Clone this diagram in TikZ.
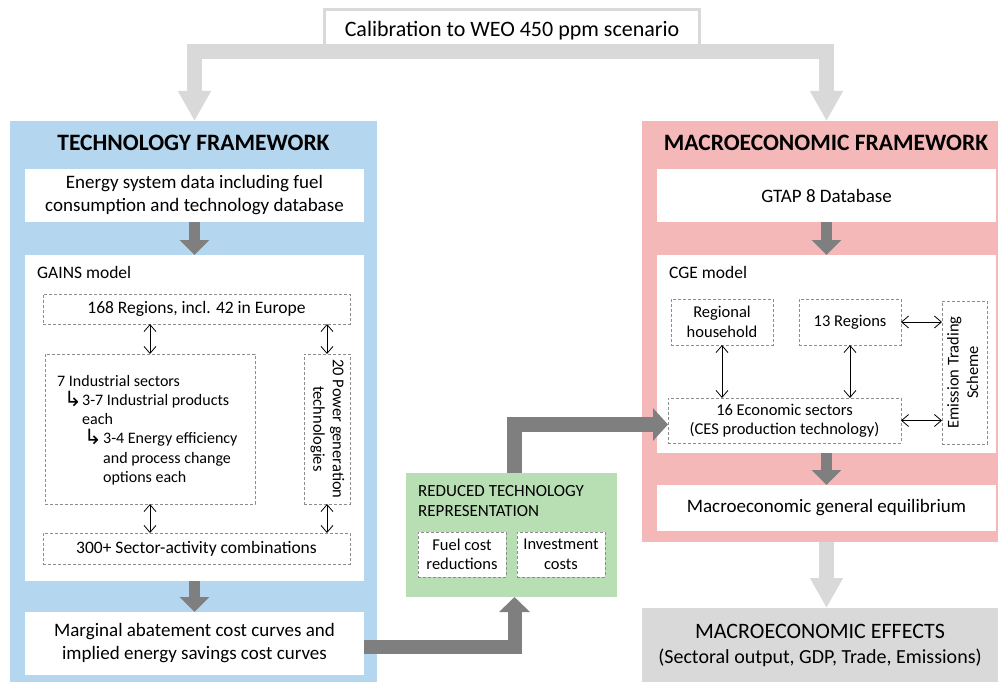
\documentclass[tikz,border=0pt]{standalone}
\usepackage{fontspec}
\setmainfont{Carlito}
\newfontfamily\symfont{DejaVu Sans}
\usetikzlibrary{arrows.meta,calc}

\definecolor{techblue}{RGB}{180,214,238}
\definecolor{macropink}{RGB}{244,184,184}
\definecolor{reducedgreen}{RGB}{184,223,180}
\definecolor{effectgray}{RGB}{217,217,217}
\definecolor{flowgray}{RGB}{217,217,217}
\definecolor{linkgray}{RGB}{127,127,127}
\definecolor{dashgray}{RGB}{140,140,140}

% hooked arrow used in the nested sector list
\newcommand{\hookmark}{\raisebox{-1pt}{\fontsize{21}{21}\symfont ↳}}

\begin{document}
\begin{tikzpicture}[x=1pt,y=-1pt,
  panel/.style={fill=#1, inner sep=0pt, outer sep=0pt},
  whitebox/.style={fill=white, inner sep=0pt, outer sep=0pt, align=center,
    font=\fontsize{19}{23}\selectfont},
  dbox/.style={draw=dashgray, dash pattern=on 3pt off 2pt, line width=0.8pt,
    fill=white, inner sep=0pt, outer sep=0pt, align=center,
    font=\fontsize{16.5}{19.5}\selectfont},
  dbl/.style={{Straight Barb[length=7pt,width=12pt]}-{Straight Barb[length=7pt,width=12pt]},
    line width=0.8pt},
  stepdown/.style={draw=linkgray, line width=11pt, -{Triangle[width=29pt,length=15pt]}},
  linkflow/.style={draw=linkgray, line width=14pt, -{Triangle[width=30pt,length=15pt]}},
  calflow/.style={draw=flowgray, line width=15pt, -{Triangle[width=31pt,length=30pt]}},
  paneltitle/.style={font=\fontsize{23.5}{28}\selectfont\bfseries, inner sep=0pt},
  modellabel/.style={font=\fontsize{17.5}{21}\selectfont, inner sep=0pt, anchor=west},
]
\useasboundingbox (0,0) rectangle (998,682);

% the two framework panels
\node[panel=techblue, minimum width=367pt, minimum height=561pt] (tech) at (193.5,401.5) {};
\node[panel=macropink, minimum width=356pt, minimum height=421pt] (macro) at (820,331.5) {};
\node[paneltitle] (techtitle) at (193.5,143) {TECHNOLOGY FRAMEWORK};
\node[paneltitle] (macrotitle) at (826,143) {MACROECONOMIC FRAMEWORK};

% technology side
\node[whitebox, minimum width=339pt, minimum height=53pt] (energy) at (194.5,195.5)
  {Energy system data including fuel\\consumption and technology database};
\node[whitebox, minimum width=339pt, minimum height=326pt] (gains) at (194.5,418) {};
\node[modellabel] (gainslabel) at (37,272) {GAINS model};
\node[dbox, minimum width=307pt, minimum height=30pt, font=\fontsize{17.5}{21}\selectfont]
  (reg168) at (196.5,309) {168 Regions, incl. 42 in Europe};
\node[dbox, minimum width=210pt, minimum height=150pt] (indus) at (150,429) {};
\node[font=\fontsize{16}{19.2}\selectfont, align=left, anchor=north west, inner sep=0pt]
  (induslist) at (57,375)
  {7 Industrial sectors\\
   \hspace*{7pt}\makebox[18pt][l]{\hookmark}3-7 Industrial products\\
   \hspace*{25pt}each\\
   \hspace*{27pt}\makebox[19pt][l]{\hookmark}3-4 Energy efficiency\\
   \hspace*{46pt}and process change\\
   \hspace*{46pt}options each};
\node[dbox, minimum width=46pt, minimum height=150pt] (power) at (327,429)
  {\rotatebox{-90}{\begin{tabular}{@{}c@{}}20 Power generation\\technologies\end{tabular}}};
\node[dbox, minimum width=307pt, minimum height=31pt, font=\fontsize{17.5}{21}\selectfont]
  (combos) at (196.5,548.5) {300+ Sector-activity combinations};
\node[whitebox, minimum width=339pt, minimum height=63pt] (marginal) at (194.5,643.5)
  {Marginal abatement cost curves and\\implied energy savings cost curves};

% reduced representation
\node[panel=reducedgreen, minimum width=211pt, minimum height=124pt] (reduced) at (511.5,535) {};
\node[font=\fontsize{17}{20}\selectfont, align=left, anchor=north west, inner sep=0pt]
  (reducedtitle) at (418,485) {REDUCED TECHNOLOGY\\REPRESENTATION};
\node[dbox, minimum width=88pt, minimum height=45pt] (fuel) at (462,554.5) {Fuel cost\\reductions};
\node[dbox, minimum width=88pt, minimum height=45pt] (invest) at (561,554.5) {Investment\\costs};

% macroeconomic side
\node[whitebox, minimum width=339pt, minimum height=53pt] (gtap) at (826.5,195.5) {GTAP 8 Database};
\node[whitebox, minimum width=339pt, minimum height=198pt] (cge) at (826.5,354) {};
\node[modellabel] (cgelabel) at (669,272) {CGE model};
\node[dbox, minimum width=102pt, minimum height=46pt] (household) at (722,322) {Regional\\household};
\node[dbox, minimum width=102pt, minimum height=46pt] (reg13) at (850,322) {13 Regions};
\node[dbox, minimum width=45pt, minimum height=143pt] (ets) at (964.5,372.5)
  {\rotatebox{90}{\begin{tabular}{@{}c@{}}Emission Trading\\Scheme\end{tabular}}};
\node[dbox, minimum width=233pt, minimum height=45pt] (sectors) at (784.5,420.5)
  {16 Economic sectors\\(CES production technology)};
\node[whitebox, minimum width=339pt, minimum height=46pt] (equil) at (826.5,508)
  {Macroeconomic general equilibrium};
\node[panel=effectgray, minimum width=356pt, minimum height=74pt, align=center,
  font=\fontsize{20}{25}\selectfont] (effects) at (820,645)
  {{\fontsize{22}{25}\selectfont MACROECONOMIC EFFECTS}\\(Sectoral output, GDP, Trade, Emissions)};

% calibration source
\node[draw=flowgray, line width=3pt, fill=white, minimum width=375pt, minimum height=42.5pt,
  inner sep=0pt, outer sep=0pt, font=\fontsize{22}{26}\selectfont] (calib) at (512,30.75)
  {Calibration to WEO 450 ppm scenario};

% calibration flows
\draw[calflow] (calib.south) -| (energy.north |- tech.north);
\draw[calflow] (calib.south) -| (gtap.north |- macro.north);
\draw[calflow] (equil.south |- macro.south) -- (equil.south |- effects.north);

% steps inside the panels
\draw[stepdown] (energy.south) -- (gains.north);
\draw[stepdown] (gains.south) -- (marginal.north);
\draw[stepdown] (gtap.south) -- (cge.north);
\draw[stepdown] (cge.south) -- (equil.north);

% links between the frameworks
\draw[linkflow] ([yshift=-3pt]marginal.east) -| ([xshift=3pt]reduced.south);
\draw[linkflow, line width=15pt, -{Triangle[width=32pt,length=15pt]}]
  ([xshift=3pt]reduced.north) |- ([yshift=-4pt]sectors.west);

% two-way relations
\draw[dbl] (reg168.south -| indus.north) -- (indus.north);
\draw[dbl] (reg168.south -| power.north) -- (power.north);
\draw[dbl] (indus.south) -- (indus.south |- combos.north);
\draw[dbl] (power.south) -- (power.south |- combos.north);
\draw[dbl] (household.south) -- (household.south |- sectors.north);
\draw[dbl] (reg13.south) -- (reg13.south |- sectors.north);
\draw[dbl] (reg13.east) -- (reg13.east -| ets.west);
\draw[dbl] (sectors.east) -- (sectors.east -| ets.west);
\end{tikzpicture}
\end{document}
